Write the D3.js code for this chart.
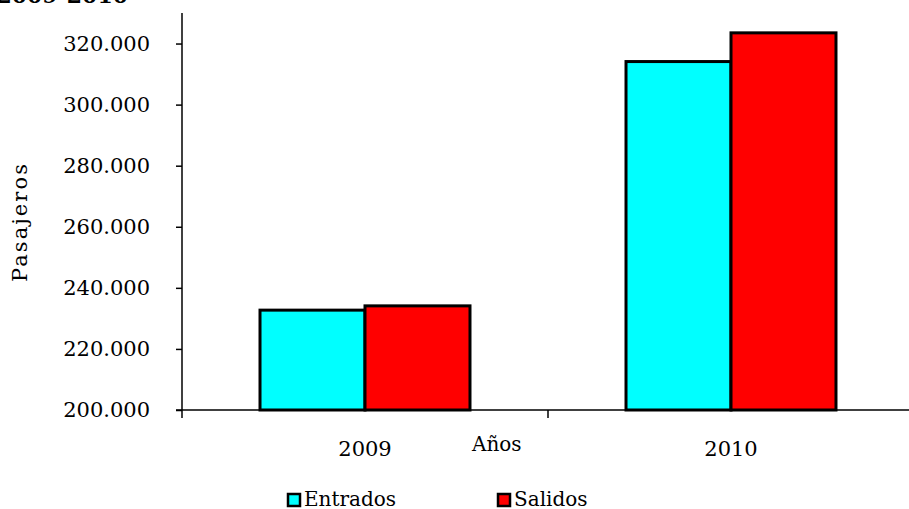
<!DOCTYPE html>
<html lang="es">
<head>
    <meta charset="UTF-8">
    <title>Pasajeros 2009-2010</title>
    <script src="https://cdn.jsdelivr.net/npm/d3@7"></script>
    <style>
        body { margin: 0; background: #fff; }
        svg { display: block; font-family: "DejaVu Serif", serif; }
        .axis path, .axis line { stroke: #000; stroke-width: 1.5px; }
        .axis text { font-family: "DejaVu Serif", serif; font-size: 21px; fill: #000; }
    </style>
</head>
<body>
<script>
    // datos
    const years = ["2009", "2010"];
    const series = ["Entrados", "Salidos"];
    const entrados = [232700, 314100];
    const salidos = [234100, 323500];
    const yTicks = [200000, 220000, 240000, 260000, 280000, 300000, 320000];
    const colors = ["#00ffff", "#ff0000"];

    const width = 909, height = 509;
    const margin = { top: 13, right: -5, bottom: 99, left: 182 };

    const svg = d3.select("body").append("svg")
        .attr("width", width)
        .attr("height", height);

    const x = d3.scaleBand()
        .domain(years)
        .range([margin.left, width - margin.right]);

    const xInner = d3.scaleBand()
        .domain(series)
        .range([0, x.bandwidth()])
        .paddingOuter(0.743);

    const y = d3.scaleLinear()
        .domain([200000, 330000])
        .range([height - margin.bottom, margin.top]);

    const es = d3.formatLocale({ decimal: ",", thousands: ".", grouping: [3], currency: ["", ""] });
    const fmt = es.format(",.0f");

    const rows = years.map((yr, i) => ({ year: yr, values: [entrados[i], salidos[i]] }));

    // barras
    const groups = svg.selectAll("g.year")
        .data(rows)
        .enter().append("g")
        .attr("class", "year")
        .attr("transform", d => `translate(${x(d.year)},0)`);

    groups.selectAll("rect")
        .data(d => d.values.map((v, i) => ({ key: series[i], value: v, color: colors[i] })))
        .enter().append("rect")
        .attr("x", d => xInner(d.key))
        .attr("y", d => y(d.value))
        .attr("width", xInner.bandwidth())
        .attr("height", d => y(200000) - y(d.value))
        .attr("fill", d => d.color)
        .attr("stroke", "#000")
        .attr("stroke-width", 3);

    // eje y
    const yAxis = svg.append("g")
        .attr("class", "axis")
        .attr("transform", `translate(${margin.left},0)`)
        .call(d3.axisLeft(y).tickValues(yTicks).tickFormat(fmt).tickSize(6).tickPadding(26).tickSizeOuter(0));
    yAxis.select(".domain").remove();
    yAxis.append("line")
        .attr("x1", 0).attr("x2", 0)
        .attr("y1", margin.top).attr("y2", y(200000) + 8)
        .attr("stroke", "#000").attr("stroke-width", 1.5);

    // eje x
    const xAxis = svg.append("g")
        .attr("class", "axis")
        .attr("transform", `translate(0,${y(200000)})`)
        .call(d3.axisBottom(x).tickSize(0).tickSizeOuter(0));
    xAxis.select(".domain").remove();
    xAxis.selectAll("text").attr("y", 46).attr("dy", 0);
    xAxis.append("line")
        .attr("x1", margin.left - 6).attr("x2", width - margin.right)
        .attr("y1", 0).attr("y2", 0)
        .attr("stroke", "#000").attr("stroke-width", 1.5);
    xAxis.selectAll("line.sep")
        .data(years.slice(1))
        .enter().append("line")
        .attr("class", "sep")
        .attr("x1", d => x(d)).attr("x2", d => x(d))
        .attr("y1", 0).attr("y2", 8)
        .attr("stroke", "#000").attr("stroke-width", 1.5);

    // titulos
    svg.append("text")
        .attr("x", 128).attr("y", 3)
        .attr("text-anchor", "end")
        .attr("font-weight", "bold")
        .attr("font-size", 22)
        .text("Movimiento de pasajeros 2009-2010");

    svg.append("text")
        .attr("transform", "translate(27,223) rotate(-90)")
        .attr("text-anchor", "middle")
        .attr("font-size", 21)
        .attr("textLength", 118)
        .attr("lengthAdjust", "spacing")
        .text("Pasajeros");

    svg.append("text")
        .attr("x", 472).attr("y", 451)
        .attr("font-size", 20)
        .text("Años");

    // leyenda
    const legendX = [288, 498];
    const legend = svg.selectAll("g.legend")
        .data(series)
        .enter().append("g")
        .attr("class", "legend")
        .attr("transform", (d, i) => `translate(${legendX[i]},494)`);
    legend.append("rect")
        .attr("width", 12).attr("height", 12)
        .attr("fill", (d, i) => colors[i])
        .attr("stroke", "#000").attr("stroke-width", 2.5);
    legend.append("text")
        .attr("x", 16).attr("y", 12)
        .attr("font-size", 20)
        .text(d => d);
</script>
</body>
</html>
